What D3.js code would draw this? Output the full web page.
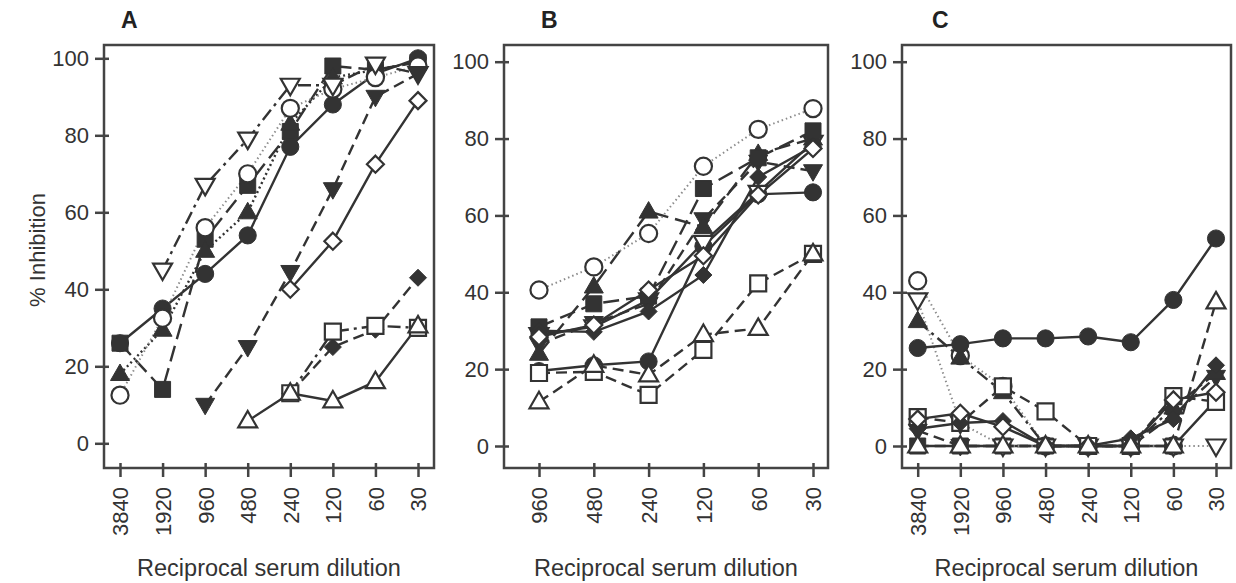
<!DOCTYPE html>
<html><head><meta charset="utf-8">
<script src="https://cdn.jsdelivr.net/npm/d3@7"></script>
<style>body{margin:0;background:#fff}</style>
</head><body>
<svg id="c" width="1236" height="583"></svg>
<script>
// ---- data ----
const catsAC = ["3840","1920","960","480","240","120","60","30"];
const catsB = ["960","480","240","120","60","30"];
const yTicks = [0,20,40,60,80,100];

// Panel A
const A_filledSquare  = [26,14,53,67,81,98,97,99];
const A_filledTri     = [18,29.5,50,60,83,95,97,99];
const A_filledCircle  = [26,35,44,54,77,88,96,100];
const A_openCircle    = [12.5,32.5,56,70,87,92,95,98];
const A_openInvTri    = [null,45,67,79,93,93,98.5,96];
const A_filledInvTri  = [null,null,10,25,44.5,66,90,96];
const A_openDiamond   = [null,null,null,null,40,52.5,72.5,89];
const A_filledDiamond = [null,null,null,null,13,25,29.5,43];
const A_openSquare    = [null,null,null,null,13,29,30.5,30];
const A_openTri       = [null,null,null,5.8,13,11,16,30.5];

// Panel B
const B_filledCircle  = [19.5,21,22,52,65.5,66];
const B_openInvTri    = [29,31,38,53,66,79];
const B_filledInvTri  = [26.5,32,37,59,74,71.5];
const B_filledTri     = [24,41.5,61,57,76,80];
const B_filledSquare  = [31,37,39,67,75,82];
const B_openCircle    = [40.6,46.6,55.3,72.8,82.4,87.8];
const B_filledDiamond = [30,29.7,35,44.5,70,78];
const B_openDiamond   = [28.4,31.5,40.6,49.5,65.3,77.4];
const B_openSquare    = [19,19.3,13.3,25,42.3,50];
const B_openTri       = [11.5,21,18.5,29,30.6,50];

// Panel C
const C_openCircle    = [43,23.5,15.5,0,0,0,0,null];
const C_filledSquare  = [0,0,0,0,0,0,0,12];
const C_filledInvTri  = [4,0,0,0,0,0,8,18];
const C_openInvTri    = [38,6,0,0,0,0,0,0];
const C_filledTri     = [32.5,23,14,0,0,0,10,19];
const C_filledCircle  = [25.5,26.5,28,28,28.5,27,38,54];
const C_openSquare    = [7.5,6,15.5,9,0,0,13,11.5];
const C_filledDiamond = [4.5,6,6.5,0,0,2,7,21];
const C_openDiamond   = [7,8.5,5,0,0,0,12,14];
const C_openTri       = [0,0,0,0,0,0,0,37.5];

// ---- styles ----
const DARK = "#333";
const lineStyle = {
  solid:   {dash:null, color:DARK, w:2.4},
  dash:    {dash:"11,6", color:DARK, w:2.4},
  ldash:   {dash:"16,7", color:DARK, w:2.4},
  dashdot: {dash:"13,5,3,5", color:DARK, w:2.4},
  dots:    {dash:"2,3", color:DARK, w:2.4},
  gdots:   {dash:"1.5,3", color:"#8c8c8c", w:2}
};

const panels = [
  {title:"A", cats:catsAC, left:104, right:434, top:45, bottom:468, y0:443.3, y100:58.3, x0:120, x1:418, tx:121,
   series:[
    {v:A_filledSquare, m:"square", f:true, l:"ldash"},
    {v:A_filledTri, m:"tri", f:true, l:"dots"},
    {v:A_filledCircle, m:"circle", f:true, l:"solid"},
    {v:A_openCircle, m:"circle", f:false, l:"gdots"},
    {v:A_openInvTri, m:"itri", f:false, l:"dashdot"},
    {v:A_filledInvTri, m:"itri", f:true, l:"dash"},
    {v:A_openDiamond, m:"diamond", f:false, l:"solid"},
    {v:A_filledDiamond, m:"diamond", f:true, l:"dash"},
    {v:A_openSquare, m:"square", f:false, l:"dashdot"},
    {v:A_openTri, m:"tri", f:false, l:"solid"}
   ]},
  {title:"B", cats:catsB, left:504, right:828, top:45, bottom:468, y0:446, y100:61.7, x0:539, x1:813, tx:541,
   series:[
    {v:B_filledCircle, m:"circle", f:true, l:"solid"},
    {v:B_openInvTri, m:"itri", f:false, l:"solid"},
    {v:B_filledInvTri, m:"itri", f:true, l:"dash"},
    {v:B_filledTri, m:"tri", f:true, l:"ldash"},
    {v:B_filledSquare, m:"square", f:true, l:"ldash"},
    {v:B_openCircle, m:"circle", f:false, l:"gdots"},
    {v:B_filledDiamond, m:"diamond", f:true, l:"solid"},
    {v:B_openDiamond, m:"diamond", f:false, l:"solid"},
    {v:B_openSquare, m:"square", f:false, l:"dash"},
    {v:B_openTri, m:"tri", f:false, l:"dash"}
   ]},
  {title:"C", cats:catsAC, left:902, right:1231, top:45, bottom:468, y0:446, y100:61.7, x0:917.7, x1:1216, tx:932,
   series:[
    {v:C_openCircle, m:"circle", f:false, l:"gdots"},
    {v:C_filledSquare, m:"square", f:true, l:"solid"},
    {v:C_filledInvTri, m:"itri", f:true, l:"dash"},
    {v:C_openInvTri, m:"itri", f:false, l:"gdots"},
    {v:C_filledTri, m:"tri", f:true, l:"dashdot"},
    {v:C_filledCircle, m:"circle", f:true, l:"solid"},
    {v:C_openSquare, m:"square", f:false, l:"dash"},
    {v:C_filledDiamond, m:"diamond", f:true, l:"solid"},
    {v:C_openDiamond, m:"diamond", f:false, l:"solid"},
    {v:C_openTri, m:"tri", f:false, l:"dash"}
   ]}
];

function markerPath(m){
  if(m==="circle") return d3.symbol(d3.symbolCircle, 230)();
  if(m==="square") return "M-8,-8H8V8H-8Z";
  if(m==="tri") return "M0,-10L9.5,6.5L-9.5,6.5Z";
  if(m==="itri") return "M0,10L9.5,-6.5L-9.5,-6.5Z";
  if(m==="diamond") return "M0,-8.5L8.5,0L0,8.5L-8.5,0Z";
}

const svg = d3.select("#c");
const FONT = "'Liberation Sans', Arial, sans-serif";

panels.forEach(p => {
  const g = svg.append("g");
  const x = d3.scalePoint().domain(p.cats).range([p.x0, p.x1]);
  const y = d3.scaleLinear().domain([0,100]).range([p.y0, p.y100]);

  // frame
  g.append("rect").attr("x",p.left).attr("y",p.top).attr("width",p.right-p.left).attr("height",p.bottom-p.top)
    .attr("fill","none").attr("stroke","#444").attr("stroke-width",2.5);

  // y axis
  const ya = g.append("g").attr("transform",`translate(${p.left},0)`)
    .call(d3.axisLeft(y).tickValues(yTicks).tickSize(9).tickPadding(6));
  ya.select(".domain").remove();
  ya.selectAll(".tick line").attr("stroke","#444").attr("stroke-width",2.5).attr("x2",-9).attr("x1",5);
  ya.selectAll(".tick text").attr("font-size",22).attr("font-family",FONT).attr("fill",DARK);

  // x axis
  const xa = g.append("g").attr("transform",`translate(0,${p.bottom})`)
    .call(d3.axisBottom(x).tickSize(9).tickPadding(6));
  xa.select(".domain").remove();
  xa.selectAll(".tick line").attr("stroke","#444").attr("stroke-width",2.5).attr("y1",-5).attr("y2",9);
  xa.selectAll(".tick text").attr("font-size",22).attr("font-family",FONT).attr("fill",DARK)
    .attr("text-anchor","end").attr("transform","translate(0,19) rotate(-90)").attr("x",0).attr("y",0).attr("dy","0.36em");

  // axis title
  g.append("text").attr("x",(p.left+p.right)/2).attr("y",576).attr("text-anchor","middle")
    .attr("font-size",23.5).attr("font-family",FONT).attr("fill",DARK).text("Reciprocal serum dilution");
  g.append("text").attr("x",p.tx).attr("y",28).attr("font-size",23).attr("font-weight","bold")
    .attr("font-family",FONT).attr("fill","#222").text(p.title);

  // lines
  const line = d3.line().defined(d => d[1]!==null).x(d => x(d[0])).y(d => y(d[1]));
  p.series.forEach(s => {
    const st = lineStyle[s.l];
    const pts = p.cats.map((c,i)=>[c, s.v[i]===undefined?null:s.v[i]]);
    g.append("path").attr("d", line(pts)).attr("fill","none").attr("stroke",st.color)
      .attr("stroke-width",st.w).attr("stroke-dasharray",st.dash);
  });
  // markers
  p.series.forEach(s => {
    p.cats.forEach((c,i) => {
      const v = s.v[i];
      if(v===null || v===undefined) return;
      g.append("path").attr("d", markerPath(s.m)).attr("transform",`translate(${x(c)},${y(v)})`)
        .attr("fill", s.f ? DARK : "#fff").attr("stroke", DARK).attr("stroke-width", s.f?1:2.2);
    });
  });
});

// y title
svg.append("text").attr("transform","translate(45,250) rotate(-90)").attr("text-anchor","middle")
  .attr("font-size",22).attr("font-family",FONT).attr("fill",DARK).text("% Inhibition");
</script>
</body></html>
